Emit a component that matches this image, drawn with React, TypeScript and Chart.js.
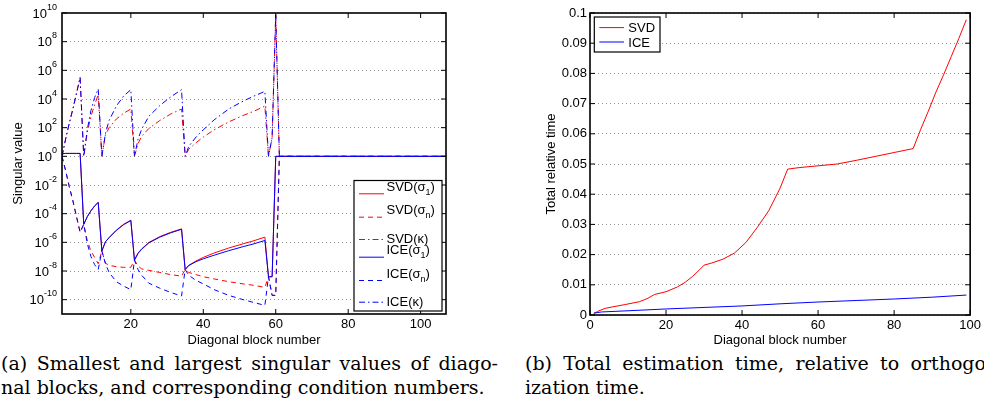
import React, { useEffect, useRef } from 'react';
import { Chart, registerables } from 'chart.js';

Chart.register(...registerables);

// ---------------- Panel (a): singular values per diagonal block ----------------
const blocks = [1, 2, 3, 4, 5, 6, 7, 8, 9, 10, 11, 12, 13, 14, 16, 18, 20, 21, 22, 23, 25, 28, 31, 34, 35, 36, 38, 40, 43, 47, 51, 54, 57, 58, 59, 60, 61, 107];

const svdSigma1 = [1.5, 1.6, 1.6, 1.6, 1.6, 1.6, 1.8e-5, 6.3e-5, 1.6e-4, 3.5e-4,
  6.3e-4, 2.5e-7, 1.1e-6, 2.2e-6, 7.1e-6, 1.8e-5, 3.5e-5, 5.8e-8, 1.8e-7, 3.5e-7,
  1e-6, 2.5e-6, 5e-6, 8.7e-6, 1.26e-8, 2.5e-8, 5e-8, 8.9e-8, 1.8e-7, 4e-7,
  7.9e-7, 1.3e-6, 2.3e-6, 4e-9, 4e-9, 1, 1, 1];

const svdSigmaN = [1, 0.1, 7.9e-3, 7.9e-4, 6.3e-5, 5e-6, 1.8e-5, 1.26e-6, 2.5e-7, 8.9e-8,
  3.2e-8, 2.5e-7, 3.5e-8, 2.5e-8, 2e-8, 1.8e-8, 1.8e-8, 5.8e-8, 2.2e-8, 1.4e-8,
  1.1e-8, 7.9e-9, 5.6e-9, 4.4e-9, 1.26e-8, 7.9e-9, 5.6e-9, 4e-9, 2.8e-9, 1.8e-9,
  1.26e-9, 1e-9, 7.2e-10, 4e-9, 2e-10, 2e-10, 1, 1];

const svdKappa = [1, 16, 200, 2000, 2.5e4, 3.2e5, 1, 50, 630, 4000,
  2e4, 1, 32, 100, 400, 1000, 2000, 1, 7.9, 25,
  89, 316, 890, 2000, 1, 3.2, 8.9, 22, 71, 250,
  710, 1400, 3200, 1, 20, 8e9, 1, 1];

const iceSigma1 = [1.5, 1.6, 1.6, 1.6, 1.6, 1.6, 1.8e-5, 6.3e-5, 1.6e-4, 3.4e-4,
  6e-4, 2.5e-7, 1.1e-6, 2.1e-6, 6.8e-6, 1.7e-5, 3.3e-5, 5.8e-8, 1.7e-7, 3.3e-7,
  9.3e-7, 2.3e-6, 4.6e-6, 8.1e-6, 1.26e-8, 2.4e-8, 4.5e-8, 7.1e-8, 1.26e-7, 2.6e-7,
  5e-7, 7.9e-7, 1.35e-6, 4e-9, 4e-9, 1, 1, 1];

const iceSigmaN = [1, 0.1, 7.9e-3, 7.9e-4, 6.3e-5, 5e-6, 1.8e-5, 7.9e-7, 1e-7, 2.8e-8,
  1.26e-8, 2.5e-7, 3.2e-8, 7.9e-9, 1.8e-9, 8.9e-10, 5e-10, 5.8e-8, 1.26e-8, 5e-9,
  1.4e-9, 6.3e-10, 3.2e-10, 1.8e-10, 1.26e-8, 5e-9, 2.2e-9, 1.26e-9, 5e-10, 2e-10,
  1e-10, 6.3e-11, 4e-11, 4e-9, 2e-10, 2e-10, 1, 1];

const iceKappa = [1, 16, 200, 2000, 2.5e4, 3.2e5, 1, 79, 1600, 1.26e4,
  5e4, 1, 40, 316, 3200, 1.6e4, 4.5e4, 1, 16, 79,
  630, 3500, 1.4e4, 4.5e4, 1, 5, 22, 71, 350, 2000,
  7100, 1.6e4, 3.4e4, 1, 20, 8e9, 1, 1];

const leftXTicks = [20, 40, 60, 80, 100];
const leftYExponents = [-10, -8, -6, -4, -2, 0, 2, 4, 6, 8, 10];
const leftLegendLabels = [
  { base: 'SVD(σ', sub: '1', tail: ')' },
  { base: 'SVD(σ', sub: 'n', tail: ')' },
  { base: 'SVD(κ)', sub: '', tail: '' },
  { base: 'ICE(σ', sub: '1', tail: ')' },
  { base: 'ICE(σ', sub: 'n', tail: ')' },
  { base: 'ICE(κ)', sub: '', tail: '' },
];

// ---------------- Panel (b): total relative time ----------------
const svdTimeBlocks = [1, 2, 4, 6, 9, 13, 15, 17, 20, 23, 25, 27, 29, 30, 32, 35, 38, 41, 44, 47, 50, 52, 55, 60, 65, 70, 75, 80, 85, 87, 89, 91, 93, 95, 97, 99];
const svdTime = [0.0005, 0.0012, 0.0022, 0.0027, 0.0034, 0.0044, 0.0054, 0.0068, 0.0077, 0.0093, 0.0108, 0.0128, 0.0152, 0.0165, 0.0172, 0.0185, 0.0205, 0.024, 0.029, 0.0345, 0.042, 0.0483, 0.0488, 0.0494, 0.05, 0.0512, 0.0525, 0.0538, 0.0551, 0.0615, 0.0675, 0.0738, 0.0795, 0.0855, 0.0915, 0.0978];
const iceTimeBlocks = [1, 3, 10, 20, 30, 40, 50, 60, 70, 80, 90, 99];
const iceTime = [0.0006, 0.001, 0.0014, 0.002, 0.0025, 0.003, 0.0037, 0.0043, 0.0048, 0.0053, 0.0059, 0.0066];
const rightXTicks = [0, 20, 40, 60, 80, 100];
const rightYTicks = [0, 0.01, 0.02, 0.03, 0.04, 0.05, 0.06, 0.07, 0.08, 0.09, 0.1];
const rightYTickLabels = ['0', '0.01', '0.02', '0.03', '0.04', '0.05', '0.06', '0.07', '0.08', '0.09', '0.1'];
const rightLegendLabels = ['SVD', 'ICE'];

const captionA = ['(a) Smallest and largest singular values of diago-', 'nal blocks, and corresponding condition numbers.'];
const captionB = ['(b) Total estimation time, relative to orthogonal-', 'ization time.'];

// ---------------- styles ----------------
const RED = '#ff0000';
const BLUE = '#0000ff';
const SOLID: number[] = [];
const DASH = [5, 4];
const DASHDOT = [6, 3, 1.5, 3];
const FONT = '"Liberation Sans", Arial, Helvetica, sans-serif';
const GRID_COLOR = 'rgba(0,0,0,0.42)';

Chart.defaults.font.family = FONT;
Chart.defaults.font.size = 13;
Chart.defaults.color = '#000';

const leftSeries = [
  { data: svdSigma1, color: RED, dash: SOLID },
  { data: svdSigmaN, color: RED, dash: DASH },
  { data: svdKappa, color: RED, dash: DASHDOT },
  { data: iceSigma1, color: BLUE, dash: SOLID },
  { data: iceSigmaN, color: BLUE, dash: DASH },
  { data: iceKappa, color: BLUE, dash: DASHDOT },
];

function line(ctx: CanvasRenderingContext2D, x1: number, y1: number, x2: number, y2: number) {
  ctx.beginPath();
  ctx.moveTo(x1, y1);
  ctx.lineTo(x2, y2);
  ctx.stroke();
}

function drawFrame(chart: any, xTicks: number[], yVals: number[]) {
  const { ctx, chartArea: a, scales } = chart;
  ctx.save();
  ctx.setLineDash([]);
  ctx.strokeStyle = '#000';
  ctx.lineWidth = 1;
  xTicks.forEach((v) => {
    const px = scales.x.getPixelForValue(v);
    line(ctx, px, a.bottom, px, a.bottom - 5);
    line(ctx, px, a.top, px, a.top + 5);
  });
  yVals.forEach((v) => {
    const py = scales.y.getPixelForValue(v);
    line(ctx, a.left, py, a.left + 5, py);
    line(ctx, a.right, py, a.right - 5, py);
  });
  ctx.lineWidth = 1.6;
  ctx.strokeRect(a.left, a.top, a.right - a.left, a.bottom - a.top);
  ctx.restore();
}

const leftPlugin = {
  id: 'leftDecor',
  afterDraw(chart: any) {
    const { ctx, chartArea: a, scales } = chart;
    drawFrame(chart, leftXTicks, leftYExponents.map((e) => Math.pow(10, e)));
    ctx.save();
    // y tick labels 10^e
    ctx.fillStyle = '#000';
    ctx.textAlign = 'left';
    ctx.textBaseline = 'alphabetic';
    leftYExponents.forEach((e) => {
      const py = scales.y.getPixelForValue(Math.pow(10, e));
      const exp = String(e);
      ctx.font = `9px ${FONT}`;
      const ew = ctx.measureText(exp).width;
      ctx.font = `13px ${FONT}`;
      const bw = ctx.measureText('10').width;
      const right = a.left - 5;
      ctx.fillText('10', right - ew - bw, py + 4.8);
      ctx.font = `9px ${FONT}`;
      ctx.fillText(exp, right - ew, py - 3.2);
    });
    // legend
    const bx = a.left + 292;
    const by = a.top + 167.5;
    const bw = 88;
    const bh = 130.5;
    ctx.fillStyle = '#fff';
    ctx.fillRect(bx, by, bw, bh);
    ctx.strokeStyle = '#000';
    ctx.lineWidth = 1.2;
    ctx.strokeRect(bx, by, bw, bh);
    const rowY = [13.3, 36.7, 59, 76.7, 100, 121.7];
    leftLegendLabels.forEach((lab, i) => {
      const s = leftSeries[i];
      const y = by + rowY[i];
      ctx.strokeStyle = s.color;
      ctx.lineWidth = 1;
      ctx.setLineDash(s.dash);
      line(ctx, bx + 5, y, bx + 30, y);
      ctx.setLineDash([]);
      ctx.fillStyle = '#000';
      const baseY = lab.sub ? y - 3 : y + 3.5;
      let x = bx + 32.5;
      ctx.font = `13px ${FONT}`;
      ctx.fillText(lab.base, x, baseY);
      x += ctx.measureText(lab.base).width;
      if (lab.sub) {
        ctx.font = `9px ${FONT}`;
        ctx.fillText(lab.sub, x, baseY + 4);
        x += ctx.measureText(lab.sub).width;
        ctx.font = `13px ${FONT}`;
      }
      if (lab.tail) ctx.fillText(lab.tail, x, baseY);
    });
    ctx.restore();
  },
};

const rightPlugin = {
  id: 'rightDecor',
  afterDraw(chart: any) {
    const { ctx, chartArea: a } = chart;
    drawFrame(chart, rightXTicks, rightYTicks);
    ctx.save();
    const bx = a.left + 4.3;
    const by = a.top + 4;
    const bw = 65.7;
    const bh = 35;
    ctx.fillStyle = '#fff';
    ctx.fillRect(bx, by, bw, bh);
    ctx.strokeStyle = '#000';
    ctx.lineWidth = 1.2;
    ctx.strokeRect(bx, by, bw, bh);
    const rowY = [10.6, 25];
    const colors = [RED, BLUE];
    rightLegendLabels.forEach((lab, i) => {
      const y = by + rowY[i];
      ctx.strokeStyle = colors[i];
      ctx.lineWidth = 1;
      line(ctx, bx + 5, y, bx + 29.7, y);
      ctx.fillStyle = '#000';
      ctx.font = `13px ${FONT}`;
      ctx.textAlign = 'left';
      ctx.textBaseline = 'alphabetic';
      ctx.fillText(lab, bx + 34, y + 4.7);
    });
    ctx.restore();
  },
};

function leftConfig(): any {
  const order = [5, 4, 3, 2, 1, 0]; // ICE drawn above SVD
  return {
    type: 'line',
    data: {
      datasets: order.map((k) => ({
        data: blocks.map((b, i) => ({ x: b, y: leftSeries[k].data[i] })),
        borderColor: leftSeries[k].color,
        borderDash: leftSeries[k].dash,
        borderWidth: 1,
        pointRadius: 0,
        fill: false,
        tension: 0,
      })),
    },
    options: {
      animation: false,
      responsive: false,
      devicePixelRatio: 1,
      events: [],
      layout: { padding: { top: 13, right: 24, left: 0, bottom: 0 } },
      plugins: { legend: { display: false }, tooltip: { enabled: false } },
      scales: {
        x: {
          type: 'linear',
          min: 1,
          max: 107,
          afterBuildTicks: (s: any) => { s.ticks = leftXTicks.map((v) => ({ value: v })); },
          afterFit: (s: any) => { s.height = 36; },
          grid: { display: false, drawTicks: false },
          border: { display: false },
          ticks: { padding: 3, maxRotation: 0, autoSkip: false, font: { size: 13 } },
          title: { display: true, text: 'Diagonal block number', font: { size: 13 }, padding: { top: 0, bottom: 2 } },
        },
        y: {
          type: 'logarithmic',
          min: 1e-11,
          max: 1e10,
          afterBuildTicks: (s: any) => { s.ticks = leftYExponents.slice(0, -1).map((e) => ({ value: Math.pow(10, e) })); },
          afterFit: (s: any) => { s.width = 62; },
          grid: { color: GRID_COLOR, lineWidth: 1, drawTicks: false },
          border: { display: false, dash: [1, 3] },
          ticks: { display: false },
          title: { display: true, text: 'Singular value', font: { size: 13 }, padding: { top: 11 } },
        },
      },
    },
    plugins: [leftPlugin],
  };
}

function rightConfig(): any {
  return {
    type: 'line',
    data: {
      datasets: [
        {
          data: iceTimeBlocks.map((b, i) => ({ x: b, y: iceTime[i] })),
          borderColor: BLUE, borderWidth: 1, pointRadius: 0, fill: false, tension: 0,
        },
        {
          data: svdTimeBlocks.map((b, i) => ({ x: b, y: svdTime[i] })),
          borderColor: RED, borderWidth: 1, pointRadius: 0, fill: false, tension: 0,
        },
      ],
    },
    options: {
      animation: false,
      responsive: false,
      devicePixelRatio: 1,
      events: [],
      layout: { padding: { top: 13, right: 10.5, left: 0, bottom: 0 } },
      plugins: { legend: { display: false }, tooltip: { enabled: false } },
      scales: {
        x: {
          type: 'linear',
          min: 0,
          max: 100,
          afterBuildTicks: (s: any) => { s.ticks = rightXTicks.map((v) => ({ value: v })); },
          afterFit: (s: any) => { s.height = 35; },
          grid: { display: false, drawTicks: false },
          border: { display: false },
          ticks: { padding: 3, maxRotation: 0, autoSkip: false, font: { size: 13 } },
          title: { display: true, text: 'Diagonal block number', font: { size: 13 }, padding: { top: 0, bottom: 2 } },
        },
        y: {
          type: 'linear',
          min: 0,
          max: 0.1,
          afterBuildTicks: (s: any) => { s.ticks = rightYTicks.map((v) => ({ value: v })); },
          afterFit: (s: any) => { s.width = 90; },
          grid: { color: GRID_COLOR, lineWidth: 1, drawTicks: false },
          border: { display: false, dash: [1, 3] },
          ticks: { padding: 3, font: { size: 13 }, callback: (_v: any, i: number) => rightYTickLabels[i] },
          title: { display: true, text: 'Total relative time', font: { size: 13 }, padding: { top: 43.8 } },
        },
      },
    },
    plugins: [rightPlugin],
  };
}

const captionFont = '19px "DejaVu Serif", serif';

export default function App() {
  const leftRef = useRef<HTMLCanvasElement>(null);
  const rightRef = useRef<HTMLCanvasElement>(null);

  useEffect(() => {
    const c1 = new Chart(leftRef.current as HTMLCanvasElement, leftConfig());
    const c2 = new Chart(rightRef.current as HTMLCanvasElement, rightConfig());
    return () => {
      c1.destroy();
      c2.destroy();
    };
  }, []);

  const lineStyle = (left: number, top: number, justify: boolean): React.CSSProperties => ({
    position: 'absolute',
    left,
    top,
    width: 497,
    height: 24,
    lineHeight: '24px',
    font: captionFont,
    color: '#000',
    whiteSpace: 'nowrap',
    textAlign: justify ? 'justify' : 'left',
    textAlignLast: justify ? 'justify' : 'left',
  } as React.CSSProperties);

  return (
    <div style={{ position: 'fixed', left: 0, top: 0, width: 984, height: 416, overflow: 'hidden', background: '#fff' }}>
      <canvas ref={leftRef} width={470} height={350} style={{ position: 'absolute', left: 0, top: 0, width: 470, height: 350 }} />
      <canvas ref={rightRef} width={484} height={350} style={{ position: 'absolute', left: 500, top: 0, width: 484, height: 350 }} />
      <div style={lineStyle(1, 352, true)}>{captionA[0]}</div>
      <div style={lineStyle(1, 376, false)}>{captionA[1]}</div>
      <div style={lineStyle(525, 352, true)}>{captionB[0]}</div>
      <div style={lineStyle(525, 376, false)}>{captionB[1]}</div>
    </div>
  );
}
